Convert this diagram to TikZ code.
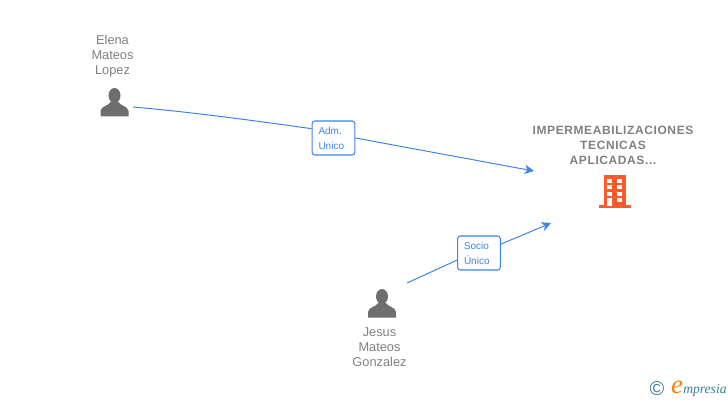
\documentclass[tikz,border=0pt]{standalone}
\usetikzlibrary{arrows.meta}
\usepackage{fontspec}
\setmainfont{Liberation Sans}
\newfontfamily\spacedfont[LetterSpace=5]{Liberation Sans}
\newfontfamily\logofont{Liberation Serif}
\definecolor{linkblue}{HTML}{3D85E6}
\definecolor{labelgray}{HTML}{808080}
\definecolor{icongray}{HTML}{6E6E6E}
\definecolor{buildorange}{HTML}{FF5A2C}
\definecolor{logoteal}{HTML}{3A7D95}
\tikzset{
  person/.style={minimum width=27pt, minimum height=21pt, inner sep=0pt},
  personlabel/.style={align=center, text=labelgray, font=\fontsize{9.6}{11.25}\selectfont},
  rolebox/.style={draw=linkblue, fill=white, rounded corners=2pt, line width=0.8pt, text=linkblue,
    align=left, text width=22.5pt, minimum width=32pt, minimum height=25.5pt, inner sep=0pt, font=\fontsize{7.5}{11.25}\selectfont},
  link/.style={draw=linkblue, line width=0.75pt},
  linktip/.style={-{Stealth[length=7pt,width=7pt,inset=2pt]}},
  personicon/.pic={
    \fill[icongray] (0,7.5) ellipse (6 and 7.5);
    \fill[icongray] (-14,-13.5) -- (-14,-8) .. controls (-13.5,-3) and (-6,-3) .. (-4,1)
      -- (4,1) .. controls (6,-3) and (13.5,-3) .. (14,-8) -- (14,-13.5) -- cycle;
  }
}
\begin{document}
\begin{tikzpicture}[x=0.75pt,y=0.75pt]
    \useasboundingbox (0,0) rectangle (728,400);

    \node[person] (elena) at (114.5,297) {};
    \node[person] (jesus) at (382,96) {};
    \pic at (114.5,297) {personicon};
    \pic at (382,96) {personicon};

    \node[personlabel] (elenalabel) at (112.5,343.5) {Elena\\Mateos\\Lopez};
    \node[personlabel] (jesuslabel) at (379.5,53) {Jesus\\Mateos\\Gonzalez};
    \node[align=center, text=labelgray, font=\spacedfont\bfseries\fontsize{9}{11.25}\selectfont] (company) at (613,255) {IMPERMEABILIZACIONES\\TECNICAS\\APLICADAS...};

    % building
    \fill[buildorange] (604,195) rectangle (626,225);
    \fill[buildorange] (599,192) rectangle (631,195);
    \foreach \row in {217.3,211,204}{
      \fill[white] (607.3,\row) rectangle (612.3,\row+3.8);
      \fill[white] (617.3,\row) rectangle (622.3,\row+3.8);
    }
    \fill[white] (607.3,194.3) rectangle (612.3,201.7);
    \fill[white] (617.3,197.7) rectangle (622.3,201.7);

    \coordinate (elenaout) at (133,293);
    \coordinate (jesusout) at (407,117);
    \coordinate (companyintop) at (534,229);
    \coordinate (companyinlow) at (551,177);

    \node[rolebox] (adm) at (333.5,262) {Adm.\\Unico};
    \node[rolebox] (socio) at (479,147) {Socio\\Único};

    \draw[link] (elenaout) .. controls (190,288) and (250,280) .. (adm.157);
    \draw[link, linktip] (adm.east) -- (companyintop);
    \draw[link] (jesusout) -- (socio.198);
    \draw[link, linktip] (socio.22) -- (companyinlow);

    % logo
    \node[text=logoteal, inner sep=0pt, font=\fontsize{15}{15}\selectfont] (copyright) at (657,11) {©};
    \node[text=orange, inner sep=0pt, font=\logofont\itshape\fontsize{20}{20}\selectfont] (logoe) at (677,12.5) {e};
    \node[text=logoteal, anchor=west, inner sep=0pt, font=\logofont\itshape\fontsize{10.2}{12}\selectfont] (logotext) at (683,10) {mpresia};

    \end{tikzpicture}
\end{document}
